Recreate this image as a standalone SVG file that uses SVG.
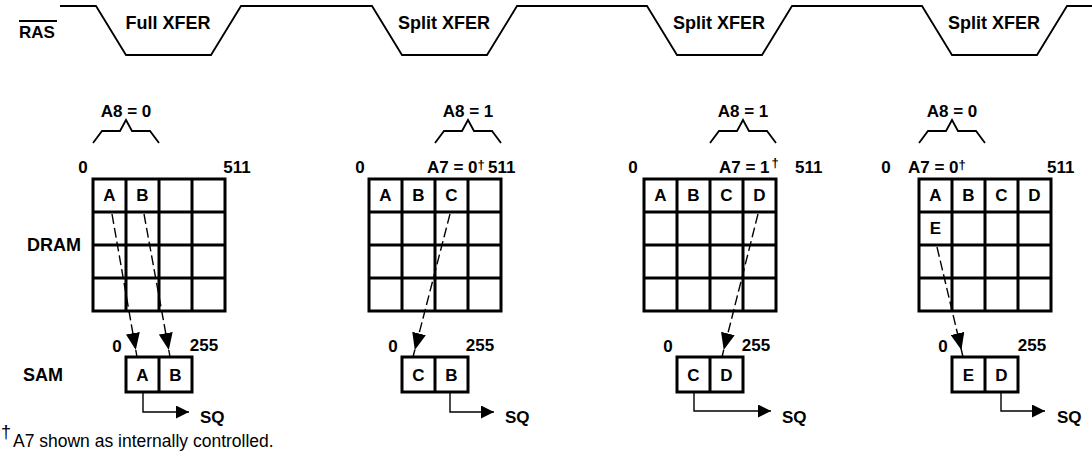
<svg xmlns="http://www.w3.org/2000/svg" width="1092" height="456" viewBox="0 0 1092 456">
<defs>
<style>
.t{font-family:"Liberation Sans",Arial,Helvetica,sans-serif;font-weight:bold;font-size:17px;fill:#000}
.c{text-anchor:middle}
.n{font-weight:normal}
.g{fill:none;stroke:#000;stroke-width:3}
.br{fill:none;stroke:#000;stroke-width:1.8;stroke-linejoin:miter}
.w{fill:none;stroke:#000;stroke-width:1.8}
.d{fill:none;stroke:#000;stroke-width:1.4;stroke-dasharray:10 4}
.s{fill:none;stroke:#000;stroke-width:1.4}
.dg{font-size:13px}
</style>
<marker id="ah" viewBox="0 0 17 14" markerWidth="17" markerHeight="14" refX="17" refY="7" orient="auto" markerUnits="userSpaceOnUse">
<path d="M0,0 L17,7 L0,14 z" fill="#000"/>
</marker>
<marker id="sh" viewBox="0 0 13 13" markerWidth="13" markerHeight="13" refX="13" refY="6.5" orient="auto" markerUnits="userSpaceOnUse">
<path d="M0,0 L13,6.5 L0,13 z" fill="#000"/>
</marker>
</defs>
<rect width="1092" height="456" fill="#fff"/>

<g id="ras">
<text class="t" x="19" y="38">RAS</text>
<line x1="19" y1="21" x2="57" y2="21" stroke="#000" stroke-width="1.8"/>
<path class="w" d="M60,6 H96 L126,55 H211 L241,6 H372 L402,55 H487 L517,6 H647 L677,55 H762 L792,6 H922 L952,55 H1037 L1067,6 H1092"/>
<text class="t c" x="168" y="29" style="font-size:18px">Full XFER</text>
<text class="t c" x="444" y="29" style="font-size:18px">Split XFER</text>
<text class="t c" x="719" y="29" style="font-size:18px">Split XFER</text>
<text class="t c" x="994" y="29" style="font-size:18px">Split XFER</text>
</g>

<g id="labels">
<text class="t" x="27" y="251" style="font-size:18px">DRAM</text>
<text class="t" x="23" y="381" style="font-size:18px">SAM</text>
</g>

<!-- Panel 1 -->
<g id="panel1">
<text class="t c" x="126" y="117">A8 = 0</text>
<path class="br" d="M93,143 L102,131 H120 L126,120 L132,131 H150 L159,143"/>
<text class="t c" x="83" y="173">0</text>
<text class="t c" x="237" y="173">511</text>
<path class="g" d="M93,179 h132 v132 h-132 z M126,179 v132 M159,179 v132 M192,179 v132 M93,212 h132 M93,245 h132 M93,278 h132"/>
<text class="t c" x="109.5" y="201">A</text>
<text class="t c" x="142.5" y="201">B</text>
<text class="t c" x="117" y="352">0</text>
<text class="t c" x="204" y="351">255</text>
<path class="g" d="M126,357 h66 v35 h-66 z M159,357 v35"/>
<text class="t c" x="142.5" y="381">A</text>
<text class="t c" x="175.5" y="381">B</text>
<text class="t" x="200" y="423">SQ</text>
</g>

<!-- Panel 2 -->
<g id="panel2">
<text class="t c" x="468" y="117">A8 = 1</text>
<path class="br" d="M435,143 L444,131 H462 L468,120 L474,131 H492 L501,143"/>
<text class="t c" x="360" y="173">0</text>
<text class="t" x="427" y="173">A7 = 0<tspan class="dg" dy="-4">†</tspan></text>
<text class="t" x="488" y="173">511</text>
<path class="g" d="M369,179 h132 v132 h-132 z M402,179 v132 M435,179 v132 M468,179 v132 M369,212 h132 M369,245 h132 M369,278 h132"/>
<text class="t c" x="385.5" y="201">A</text>
<text class="t c" x="418.5" y="201">B</text>
<text class="t c" x="451.5" y="201">C</text>
<text class="t c" x="393" y="352">0</text>
<text class="t c" x="480" y="351">255</text>
<path class="g" d="M402,357 h66 v35 h-66 z M435,357 v35"/>
<text class="t c" x="418.5" y="381">C</text>
<text class="t c" x="451.5" y="381">B</text>
<text class="t" x="505" y="423">SQ</text>
</g>

<!-- Panel 3 -->
<g id="panel3">
<text class="t c" x="743" y="117">A8 = 1</text>
<path class="br" d="M710,143 L719,131 H737 L743,120 L749,131 H767 L776,143"/>
<text class="t c" x="633" y="173">0</text>
<text class="t" x="719" y="173">A7 = 1<tspan class="dg" dx="2" dy="-6">†</tspan></text>
<text class="t" x="795" y="173">511</text>
<path class="g" d="M644,179 h132 v132 h-132 z M677,179 v132 M710,179 v132 M743,179 v132 M644,212 h132 M644,245 h132 M644,278 h132"/>
<text class="t c" x="660.5" y="201">A</text>
<text class="t c" x="693.5" y="201">B</text>
<text class="t c" x="726.5" y="201">C</text>
<text class="t c" x="759.5" y="201">D</text>
<text class="t c" x="668" y="352">0</text>
<text class="t c" x="756" y="351">255</text>
<path class="g" d="M677,357 h66 v35 h-66 z M710,357 v35"/>
<text class="t c" x="693.5" y="381">C</text>
<text class="t c" x="726.5" y="381">D</text>
<text class="t" x="782" y="423">SQ</text>
</g>

<!-- Panel 4 -->
<g id="panel4">
<text class="t c" x="952" y="117">A8 = 0</text>
<path class="br" d="M919,143 L928,131 H946 L952,120 L958,131 H976 L985,143"/>
<text class="t c" x="886" y="173">0</text>
<text class="t" x="908" y="173">A7 = 0<tspan class="dg" dy="-4">†</tspan></text>
<text class="t" x="1047" y="173">511</text>
<path class="g" d="M919,179 h132 v132 h-132 z M952,179 v132 M985,179 v132 M1018,179 v132 M919,212 h132 M919,245 h132 M919,278 h132"/>
<text class="t c" x="935.5" y="201">A</text>
<text class="t c" x="968.5" y="201">B</text>
<text class="t c" x="1001.5" y="201">C</text>
<text class="t c" x="1034.5" y="201">D</text>
<text class="t c" x="935.5" y="234">E</text>
<text class="t c" x="943" y="352">0</text>
<text class="t c" x="1032" y="351">255</text>
<path class="g" d="M952,357 h66 v35 h-66 z M985,357 v35"/>
<text class="t c" x="968.5" y="381">E</text>
<text class="t c" x="1001.5" y="381">D</text>
<text class="t" x="1057" y="423">SQ</text>
</g>

<g id="connectors">
<path class="d" d="M112,214 L135.8,350" marker-end="url(#ah)"/>
<path class="s" d="M135.8,350 L137,357"/>
<path class="d" d="M144,214 L168.8,350" marker-end="url(#ah)"/>
<path class="s" d="M168.8,350 L170,357"/>
<path class="d" d="M450,214 L414.8,350" marker-end="url(#ah)"/>
<path class="s" d="M414.8,350 L413,357"/>
<path class="d" d="M758,214 L723.7,350" marker-end="url(#ah)"/>
<path class="s" d="M723.7,350 L722,357"/>
<path class="d" d="M937,247 L961.4,350" marker-end="url(#ah)"/>
<path class="s" d="M961.4,350 L963,357"/>
<path class="s" d="M143,392 V412 H189" marker-end="url(#sh)"/>
<path class="s" d="M450,392 V412 H494" marker-end="url(#sh)"/>
<path class="s" d="M694,392 V411 H771" marker-end="url(#sh)"/>
<path class="s" d="M1001,392 V411 H1045" marker-end="url(#sh)"/>
</g>

<g id="footnote">
<text class="t n" x="1" y="438" style="font-size:18px">†</text>
<text class="t n" x="13" y="447" style="font-size:17.5px">A7 shown as internally controlled.</text>
</g>
</svg>
